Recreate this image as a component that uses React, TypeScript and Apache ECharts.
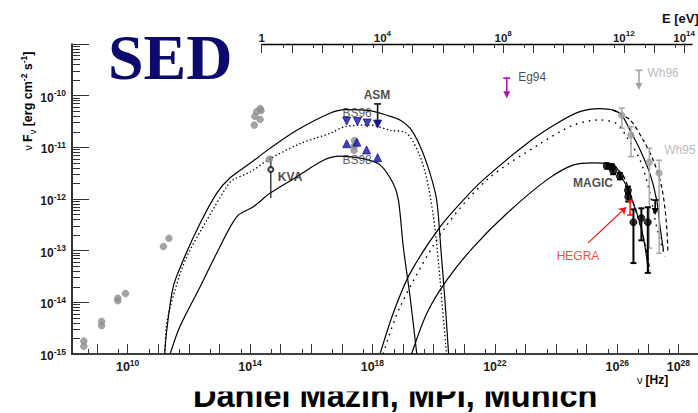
import { useEffect, useRef } from 'react';
import * as echarts from 'echarts';

const FONT = '"Liberation Sans", Arial, sans-serif';
const SERIF = '"Liberation Serif", "Times New Roman", serif';

// log10 of the frequency (Hz) that corresponds to a photon energy of 1 eV
const LOG_HZ_PER_EV = 14.3834;
// plotted ranges, log10 ν [Hz] and log10 νFν [erg cm^-2 s^-1]
const LOG_NU_RANGE = [8.183, 28.64];
const LOG_FLUX_RANGE = [-15, -9];

// ---- measurements: [log10 ν, log10 νFν] ----
const archivalPoints = [
  [8.57, -14.75], [8.57, -14.85],
  [9.15, -14.37], [9.15, -14.45],
  [9.68, -13.92], [9.68, -13.97], [9.93, -13.83],
  [11.17, -12.92], [11.35, -12.76],
  [14.33, -10.25], [14.22, -10.31], [14.16, -10.4], [14.33, -10.46], [14.14, -10.57], [14.36, -10.29],
  [14.63, -11.23],
  [17.41, -10.87], [17.4, -10.98], [17.4, -11.06],
];
const bs96Points = [[17.16, -10.49], [17.51, -10.5], [17.83, -10.53], [18.17, -10.55]];
const bs98Points = [[17.16, -10.93], [17.49, -10.9], [17.81, -11.05], [18.17, -11.2]];
// [log10 ν, log10 νFν, lower, upper]
const kvaPoints = [[14.68, -11.43, -11.98, -11.17]];
const magicPoints = [
  [25.66, -11.36, -11.41, -11.31],
  [25.82, -11.38, -11.43, -11.33],
  [25.87, -11.46, -11.52, -11.4],
  [26.09, -11.56, -11.62, -11.5],
  [26.35, -11.83, -11.9, -11.76],
  [26.36, -11.96, -12.05, -11.88],
  [26.53, -12.45, -13.24, -12.2],
  [26.79, -12.37, -12.8, -12.18],
  [27.0, -12.45, -13.43, -12.16],
];
const wh95Points = [
  [26.15, -10.38, -10.63, -10.24],
  [26.45, -10.76, -11.18, -10.6],
  [27.05, -11.29, -12.95, -11.02],
  [27.37, -11.5, -13.05, -11.25],
];
// [log10 ν, lower, upper]
const hegraBars = [[26.42, -12.31, -12.04]];
// upper limits: [log10 ν, bar top, arrow tip]
const asmLimits = [[18.17, -10.16, -10.61]];
const eg94Limits = [[22.39, -9.66, -10.05]];
const wh96Limits = [[26.71, -9.51, -9.89]];
const magicLimits = [[27.24, -12.02, -12.31]];

// ---- model curves: [log10 ν, log10 νFν] ----
const syncHigh = [
  [11.21, -15], [11.28, -14.54], [11.49, -13.7], [11.82, -13.18], [12.37, -12.47], [12.91, -11.89],
  [13.35, -11.59], [14.0, -11.31], [14.65, -11.02], [15.53, -10.67], [16.61, -10.34], [17.11, -10.27],
  [17.92, -10.29], [18.47, -10.38], [18.9, -10.47], [19.23, -10.63], [19.56, -10.98], [19.88, -11.5],
  [20.1, -12.02], [20.24, -12.99], [20.37, -13.96], [20.49, -15],
];
const syncMid = [
  [11.22, -15], [11.28, -14.4], [11.55, -13.76], [11.93, -13.12], [12.59, -12.41], [13.24, -11.76],
  [13.44, -11.63], [14.0, -11.48], [14.63, -11.23], [15.63, -10.93], [16.61, -10.73], [17.11, -10.6],
  [17.92, -10.57], [18.58, -10.67], [19.12, -10.73], [19.56, -11.18], [19.83, -11.76], [20.05, -12.6],
  [20.21, -13.57], [20.42, -15],
];
const syncLow = [
  [11.39, -15], [11.71, -14.47], [12.37, -13.7], [12.91, -13.05], [13.57, -12.34], [14.11, -12.15],
  [14.65, -11.89], [15.53, -11.57], [16.4, -11.25], [16.94, -11.17], [17.7, -11.22], [18.25, -11.34],
  [18.68, -11.7], [18.85, -12.02], [19.01, -12.93], [19.23, -13.89], [19.45, -15],
];
const icHigh = [
  [18.25, -15], [18.68, -14.21], [19.23, -13.44], [20.21, -12.54], [20.97, -12.02], [21.62, -11.63],
  [23.04, -10.93], [24.02, -10.54], [24.78, -10.31], [25.44, -10.25], [25.87, -10.28], [26.15, -10.38],
  [26.42, -10.67], [26.75, -11.05], [27.07, -11.51], [27.29, -12.02], [27.4, -12.54], [27.51, -12.99],
];
const icMid = [
  [18.35, -15], [18.9, -14.09], [20.32, -12.6], [21.74, -11.63], [23.48, -10.93], [24.57, -10.57],
  [25.44, -10.47], [25.98, -10.54], [26.31, -10.8], [26.75, -11.25], [27.07, -11.89], [27.29, -12.54],
  [27.56, -13.12],
];
const icLow = [
  [19.28, -15], [19.78, -14.21], [20.43, -13.57], [21.3, -12.93], [22.39, -12.28], [23.7, -11.63],
  [24.57, -11.34], [25.22, -11.3], [25.66, -11.31], [25.93, -11.36], [26.09, -11.51], [26.31, -11.76],
  [26.53, -12.09], [26.75, -12.47], [26.91, -12.93], [27.02, -13.41],
];
const icHighIntrinsic = [
  [25.87, -10.28], [26.42, -10.47], [26.85, -10.86], [27.18, -11.25], [27.45, -11.76], [27.6, -12.41],
  [27.66, -13.05],
];
const icLowIntrinsic = [
  [25.87, -11.36], [26.19, -11.54], [26.45, -11.94], [26.68, -12.37], [26.88, -12.8], [27.07, -13.38],
];

// tick positions (exponents)
const nuMajorTicks = [9, 10, 11, 12, 13, 14, 15, 16, 17, 18, 19, 20, 21, 22, 23, 24, 25, 26, 27, 28];
const nuLabelTicks = [10, 14, 18, 22, 26, 28];
const eVMajorTicks = [0, 1, 2, 3, 4, 5, 6, 7, 8, 9, 10, 11, 12, 13, 14];
const eVLabelTicks = [0, 4, 8, 12, 14];
const fluxMajorTicks = [-15, -14, -13, -12, -11, -10, -9];
const fluxLabelTicks = [-15, -14, -13, -12, -11, -10];

const pow = (l: number) => Math.pow(10, l);
const toXY = (pts: number[][]) => pts.map((p) => [pow(p[0]), pow(p[1])]);
const toBar = (pts: number[][]) =>
  pts.map((p) => [pow(p[0]), pow(p[p.length - 2]), pow(p[p.length - 1])]);

const expFormatter = (v: number) => {
  const e = Math.round(Math.log10(v));
  return e === 0 ? '{b|1}' : `{b|10}{s|${e}}`;
};

const richFor = (base: number, sup: number) => ({
  b: { fontFamily: FONT, fontSize: base, fontWeight: 'bold', color: '#1a1a1a', lineHeight: 18 },
  s: { fontFamily: FONT, fontSize: sup, fontWeight: 'bold', color: '#1a1a1a', lineHeight: 10, verticalAlign: 'top' },
});

const errorBars = (color: string, cap: number, width: number) => (_p: any, api: any) => {
  const x = api.value(0);
  const a = api.coord([x, api.value(1)]);
  const b = api.coord([x, api.value(2)]);
  const style = { stroke: color, lineWidth: width };
  return {
    type: 'group',
    children: [
      { type: 'line', shape: { x1: a[0], y1: a[1], x2: b[0], y2: b[1] }, style },
      { type: 'line', shape: { x1: a[0] - cap, y1: a[1], x2: a[0] + cap, y2: a[1] }, style },
      { type: 'line', shape: { x1: b[0] - cap, y1: b[1], x2: b[0] + cap, y2: b[1] }, style },
    ],
  };
};

const upperLimits = (color: string) => (_p: any, api: any) => {
  const x = api.value(0);
  const t = api.coord([x, api.value(1)]);
  const b = api.coord([x, api.value(2)]);
  const style = { stroke: color, lineWidth: 1.6 };
  return {
    type: 'group',
    children: [
      { type: 'line', shape: { x1: t[0], y1: t[1], x2: b[0], y2: b[1] - 4 }, style },
      { type: 'line', shape: { x1: t[0] - 3.5, y1: t[1], x2: t[0] + 3.5, y2: t[1] }, style },
      {
        type: 'polygon',
        shape: { points: [[b[0] - 3.5, b[1] - 7], [b[0] + 3.5, b[1] - 7], [b[0], b[1]]] },
        style: { fill: color },
      },
    ],
  };
};

const annotationLabels = [
  { text: 'KVA', at: [15.31, -11.58], weight: 'bold', color: '#1a1a1a' },
  { text: 'ASM', at: [18.15, -9.99], weight: 'bold', color: '#1a1a1a' },
  { text: 'BS96', at: [17.5, -10.34], weight: 'normal', color: '#333333' },
  { text: 'BS98', at: [17.5, -11.25], weight: 'normal', color: '#333333' },
  { text: 'MAGIC', at: [25.21, -11.69], weight: 'bold', color: '#1a1a1a' },
  { text: 'HEGRA', at: [24.72, -13.1], weight: 'normal', color: '#ff1010' },
  { text: 'Eg94', at: [23.22, -9.64], weight: 'normal', color: '#1a1a1a' },
  { text: 'Wh96', at: [27.5, -9.57], weight: 'normal', color: '#a8a8a8' },
  { text: 'Wh95', at: [28.05, -11.05], weight: 'normal', color: '#a8a8a8' },
];
const hegraPointer = [[25.05, -12.85], [26.29, -12.16]];

const GRID_LEFT = 72;
const GRID_TOP = 44;
const GRID_BOTTOM = 59;
const WIDTH = 698;

function buildOption(): any {
  const nuMin = pow(LOG_NU_RANGE[0]);
  const nuMax = pow(LOG_NU_RANGE[1]);
  // the energy axis starts at 1 eV, so it sits in its own grid over the right-hand part
  const pxPerDecade = (WIDTH - GRID_LEFT) / (LOG_NU_RANGE[1] - LOG_NU_RANGE[0]);
  const eGridLeft = GRID_LEFT + (LOG_HZ_PER_EV - LOG_NU_RANGE[0]) * pxPerDecade;
  const eMax = pow(LOG_NU_RANGE[1] - LOG_HZ_PER_EV);

  const baseX = { type: 'log', min: nuMin, max: nuMax, gridIndex: 0, splitLine: { show: false } };
  const baseE = { type: 'log', min: 1, max: eMax, gridIndex: 1, splitLine: { show: false } };
  const baseY = {
    type: 'log', min: pow(LOG_FLUX_RANGE[0]), max: pow(LOG_FLUX_RANGE[1]), gridIndex: 0,
    splitLine: { show: false },
  };
  const tickStyle = { color: '#333', width: 1 };
  const fives = (lo: number, hi: number) => {
    const out: number[] = [];
    for (let e = lo; e <= hi; e++) out.push(5 * pow(e));
    return out;
  };
  const fluxMinor: number[] = [];
  for (let e = -15; e < -9; e++) for (let k = 2; k <= 9; k++) fluxMinor.push(k * pow(e));

  const line = (data: number[][], type: any, width = 1.2) => ({
    type: 'line', data: toXY(data), showSymbol: false, smooth: 0.3, silent: true,
    lineStyle: { color: '#000', width, type }, z: 2,
  });
  const scatter = (data: number[][], symbol: string, size: number, color: string, rotate = 0) => ({
    type: 'scatter', data: toXY(data), symbol, symbolSize: size, symbolRotate: rotate,
    itemStyle: { color, borderColor: color }, z: 5, silent: true,
  });
  const custom = (data: number[][], renderItem: any, z = 4) => ({
    type: 'custom', data: toBar(data), renderItem, z, silent: true,
  });

  return {
    animation: false,
    textStyle: { fontFamily: FONT },
    grid: [
      { left: GRID_LEFT, top: GRID_TOP, right: 0, bottom: GRID_BOTTOM, containLabel: false },
      { left: eGridLeft, top: GRID_TOP, right: 0, bottom: GRID_BOTTOM, containLabel: false },
    ],
    xAxis: [
      {
        ...baseX, position: 'bottom',
        axisLine: { show: true, onZero: false, lineStyle: { color: '#000', width: 1.6 } },
        axisTick: { show: true, inside: true, length: 10, customValues: nuMajorTicks.map(pow), lineStyle: tickStyle },
        axisLabel: {
          show: true, margin: 4, customValues: nuLabelTicks.map(pow),
          formatter: expFormatter, rich: richFor(12.5, 8.5),
        },
      },
      {
        ...baseX, position: 'bottom',
        axisLine: { show: false },
        axisTick: { show: true, inside: true, length: 5, customValues: fives(8, 27), lineStyle: tickStyle },
        axisLabel: { show: false },
      },
      {
        ...baseE, position: 'top',
        axisLine: { show: true, onZero: false, lineStyle: { color: '#000', width: 1.4 } },
        axisTick: { show: true, inside: true, length: 9, customValues: eVMajorTicks.map(pow), lineStyle: tickStyle },
        axisLabel: {
          show: true, margin: -3, customValues: eVLabelTicks.map(pow),
          formatter: expFormatter, rich: richFor(11.5, 8),
        },
      },
      {
        ...baseE, position: 'top',
        axisLine: { show: false },
        axisTick: { show: true, inside: true, length: 4, customValues: fives(0, 13), lineStyle: tickStyle },
        axisLabel: { show: false },
      },
    ],
    yAxis: [
      {
        ...baseY, position: 'left',
        axisLine: { show: true, onZero: false, lineStyle: { color: '#000', width: 1.6 } },
        axisTick: { show: true, inside: true, length: 17, customValues: fluxMajorTicks.map(pow), lineStyle: tickStyle },
        axisLabel: {
          show: true, margin: 6, customValues: fluxLabelTicks.map(pow), padding: [4, 0, 0, 0],
          formatter: expFormatter, rich: richFor(12, 8.5),
        },
      },
      {
        ...baseY, position: 'left',
        axisLine: { show: false },
        axisTick: { show: true, inside: true, length: 8, customValues: fluxMinor, lineStyle: tickStyle },
        axisLabel: { show: false },
      },
      {
        ...baseY, gridIndex: 1, show: false,
      },
    ],
    series: [
      line(syncHigh, 'solid'),
      line(syncMid, [1.4, 2.4], 1.3),
      line(syncLow, 'solid'),
      line(icHigh, 'solid'),
      line(icMid, [1.6, 5], 1.4),
      line(icLow, 'solid'),
      line(icHighIntrinsic, [4, 3]),
      line(icLowIntrinsic, [4, 3]),
      scatter(archivalPoints, 'circle', 6.5, '#8e8e8e'),
      scatter(bs96Points, 'triangle', 8, '#14149e', 180),
      scatter(bs98Points, 'triangle', 8, '#14149e'),
      custom(kvaPoints.map((p) => [p[0], p[2], p[3]]), errorBars('#111', 0, 1.2)),
      scatter(kvaPoints, 'emptyCircle', 5, '#111'),
      custom(wh95Points.map((p) => [p[0], p[2], p[3]]), errorBars('#a8a8a8', 3, 1.5)),
      scatter(wh95Points, 'circle', 6.5, '#a0a0a0'),
      custom(magicPoints.map((p) => [p[0], p[2], p[3]]), errorBars('#000', 3, 2)),
      scatter(magicPoints, 'circle', 7, '#000'),
      custom(hegraBars, errorBars('#ff1010', 3, 1.5), 6),
      custom(asmLimits, upperLimits('#111')),
      custom(eg94Limits, upperLimits('#b012b0')),
      custom(wh96Limits, upperLimits('#a0a0a0')),
      custom(magicLimits, upperLimits('#000')),
      {
        type: 'lines', coordinateSystem: 'cartesian2d', silent: true, z: 6,
        symbol: ['none', 'arrow'], symbolSize: 7,
        lineStyle: { color: '#ff1010', width: 1.2, opacity: 1 },
        data: [{ coords: toXY(hegraPointer) }],
      },
      {
        type: 'scatter', silent: true, z: 7, symbolSize: 1,
        itemStyle: { color: 'rgba(0,0,0,0)', borderWidth: 0 },
        data: annotationLabels.map((a) => ({
          value: [pow(a.at[0]), pow(a.at[1])],
          label: {
            show: true, position: 'inside', formatter: a.text, fontFamily: FONT, fontSize: 12,
            fontWeight: a.weight, color: a.color, textBorderWidth: 0,
          },
        })),
      },
    ],
    graphic: [
      {
        type: 'text', x: 108, y: 57, z: 10,
        style: { text: 'SED', font: `bold 64px ${SERIF}`, fill: '#0b0b6e', verticalAlign: 'middle' },
      },
      {
        type: 'text', x: 28, y: 101, rotation: Math.PI / 2, z: 10,
        style: {
          text: '{n|ν }{t|F}{sub|ν}{t| [erg cm}{sup|-2}{t| s}{sup|-1}{t|]}',
          align: 'center', verticalAlign: 'middle',
          rich: {
            n: { fontFamily: FONT, fontSize: 11, color: '#222', lineHeight: 18 },
            t: { fontFamily: FONT, fontSize: 12.5, fontWeight: 'bold', color: '#222', lineHeight: 18 },
            sub: { fontFamily: FONT, fontSize: 9, color: '#222', lineHeight: 10, verticalAlign: 'bottom' },
            sup: { fontFamily: FONT, fontSize: 8.5, fontWeight: 'bold', color: '#222', lineHeight: 10, verticalAlign: 'top' },
          },
        },
      },
      {
        type: 'text', x: 637, y: 380, z: 10,
        style: {
          text: '{n|ν }{t|[Hz]}', verticalAlign: 'middle',
          rich: {
            n: { fontFamily: FONT, fontSize: 11, color: '#222' },
            t: { fontFamily: FONT, fontSize: 12, fontWeight: 'bold', color: '#222' },
          },
        },
      },
      {
        type: 'text', x: 662, y: 18, z: 10,
        style: { text: 'E [eV]', font: `bold 13px ${FONT}`, fill: '#111', verticalAlign: 'middle' },
      },
      {
        type: 'text', x: 193, y: 396.3, z: 10,
        style: { text: 'Daniel Mazin, MPI, Munich', font: `bold 32.5px ${FONT}`, fill: '#000', verticalAlign: 'middle' },
      },
      {
        type: 'rect', z: 11, shape: { x: 180, y: 376, width: 440, height: 15.5 },
        style: { fill: '#fff' },
      },
    ],
  };
}

export default function App() {
  const ref = useRef<HTMLDivElement>(null);
  useEffect(() => {
    document.body.style.margin = '0';
    const chart = echarts.init(ref.current!, undefined, { renderer: 'svg' });
    chart.setOption(buildOption());
    return () => chart.dispose();
  }, []);
  return <div ref={ref} style={{ width: WIDTH, height: 413, background: '#fff' }} />;
}
